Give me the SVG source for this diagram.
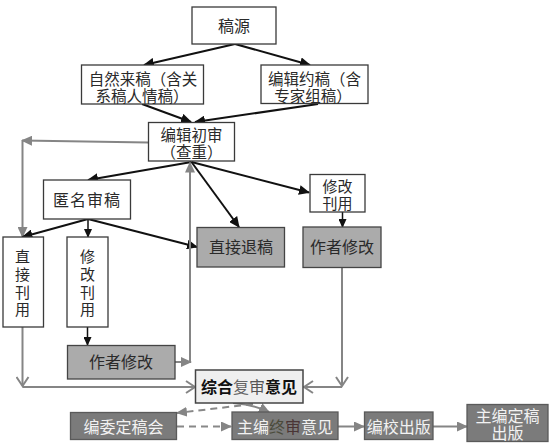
<svg xmlns="http://www.w3.org/2000/svg" width="551" height="446" viewBox="0 0 551 446">
<defs>
<style>
text{font-family:"Noto Sans CJK SC","Noto Sans",sans-serif;font-size:16px;fill:#2a2a2a;text-anchor:middle}
.v{font-size:15px}
.t2{font-size:15.5px}
.box{fill:#fff;stroke:#3a3a3a;stroke-width:1.3}
.mid{fill:#ababab;stroke:#444;stroke-width:1.3}
.dark{fill:#7b7b7b;stroke:#5a5a5a;stroke-width:1.3}
.light{fill:#efefef;stroke:#444;stroke-width:1.5}
.wt{fill:#f2f2f2}
.blk{stroke:#111;stroke-width:2;fill:none;marker-end:url(#ab)}
.thin{stroke:#111;stroke-width:1.5;fill:none;marker-end:url(#abs)}
.gry{stroke:#858585;stroke-width:2;fill:none;marker-end:url(#ag)}
.chv{stroke:#858585;stroke-width:2;fill:none;marker-end:url(#ac)}
.dsh{stroke:#888;stroke-width:2;fill:none;stroke-dasharray:7 5;marker-end:url(#ag)}
</style>
<marker id="ab" markerUnits="userSpaceOnUse" markerWidth="12" markerHeight="10" refX="10" refY="5" orient="auto"><path d="M0,0 L11,5 L0,10 z" fill="#111"/></marker>
<marker id="abs" markerUnits="userSpaceOnUse" markerWidth="10" markerHeight="8" refX="8" refY="4" orient="auto"><path d="M0,0 L9,4 L0,8 z" fill="#111"/></marker>
<marker id="ag" markerUnits="userSpaceOnUse" markerWidth="12" markerHeight="10" refX="10" refY="5" orient="auto"><path d="M0,0 L11,5 L0,10 z" fill="#858585"/></marker>
<marker id="ac" markerUnits="userSpaceOnUse" markerWidth="12" markerHeight="14" refX="10" refY="7" orient="auto"><path d="M1,1 L10,7 L1,13" fill="none" stroke="#858585" stroke-width="2"/></marker>
</defs>

<g id="connectors">
<line class="blk" x1="235" y1="44" x2="144" y2="65"/>
<line class="blk" x1="235" y1="44" x2="310" y2="65"/>
<line class="blk" x1="142" y1="104" x2="191" y2="122"/>
<line class="blk" x1="318" y1="104" x2="195" y2="122"/>
<line class="gry" x1="148" y1="142.5" x2="22" y2="140.5"/>
<line class="gry" x1="22.5" y1="140.5" x2="22.5" y2="237"/>
<line class="blk" x1="191.5" y1="162" x2="88" y2="180"/>
<line class="blk" x1="191.5" y1="162" x2="239" y2="227"/>
<line class="blk" x1="191.5" y1="162" x2="309" y2="192.5"/>
<line class="thin" x1="342.5" y1="212" x2="342.5" y2="227"/>
<line class="blk" x1="88" y1="219" x2="22.5" y2="237"/>
<line class="thin" x1="88" y1="219" x2="88" y2="237"/>
<line class="blk" x1="88" y1="219" x2="197" y2="247"/>
<line class="thin" x1="87.5" y1="327" x2="87.5" y2="345"/>
<line class="gry" x1="190" y1="361" x2="190" y2="162.5"/>
<line class="gry" x1="175" y1="362" x2="191" y2="362"/>
<line class="chv" x1="22.5" y1="327" x2="22.5" y2="386"/>
<line class="chv" x1="22.5" y1="387" x2="195" y2="387"/>
<line class="chv" x1="342" y1="268" x2="342" y2="386"/>
<line class="chv" x1="342" y1="387" x2="304" y2="387"/>
<line class="dsh" x1="253" y1="404" x2="177" y2="413"/>
<path class="gry" d="M233,403 Q255,405 269,412"/>
<line class="dsh" x1="177" y1="426.5" x2="231" y2="426.5"/>
<line class="gry" x1="338" y1="426.5" x2="364" y2="426.5"/>
<line class="gry" x1="433" y1="426.5" x2="467" y2="426.5"/>
</g>

<g id="n-gaoyuan"><rect class="box" x="192" y="7" width="84" height="37"/><text x="234" y="31.5">稿源</text></g>
<g id="n-ziran"><rect class="box" x="81.5" y="65" width="122" height="39"/><text class="t2" y="84.5"><tspan x="143">自然来稿（含关</tspan><tspan x="142" dy="17">系稿人情稿）</tspan></text></g>
<g id="n-yuegao"><rect class="box" x="261" y="65" width="107" height="38.5"/><text class="t2" y="84.5"><tspan x="314.5">编辑约稿（含</tspan><tspan x="313" dy="17">专家组稿）</tspan></text></g>
<g id="n-chushen"><rect class="box" x="148.5" y="122.5" width="86" height="38.5"/><text class="t2" y="140.5"><tspan x="191.5">编辑初审</tspan><tspan x="191.5" dy="17">（查重）</tspan></text></g>
<g id="n-niming"><rect class="box" x="43.5" y="180" width="87" height="39"/><text x="87" y="205.5" letter-spacing="1">匿名审稿</text></g>
<g id="n-xiugai-r"><rect class="box" x="310" y="174.5" width="55" height="37.5"/><text class="v" y="192"><tspan x="337.5">修改</tspan><tspan x="337.5" dy="16.5">刊用</tspan></text></g>
<g id="n-tuigao"><rect class="mid" x="197" y="227.5" width="87.5" height="39.5"/><text x="241" y="253">直接退稿</text></g>
<g id="n-zuozhe-r"><rect class="mid" x="303" y="227" width="78" height="40.5"/><text x="342" y="253">作者修改</text></g>
<g id="n-zhijie"><rect class="box" x="3" y="237" width="40.5" height="90"/><text class="v" y="261.5"><tspan x="22.5">直</tspan><tspan x="22.5" dy="18">接</tspan><tspan x="22.5" dy="18">刊</tspan><tspan x="22.5" dy="17">用</tspan></text></g>
<g id="n-xiugai-l"><rect class="box" x="67" y="237" width="41" height="90"/><text class="v" y="261.5"><tspan x="87.5">修</tspan><tspan x="87.5" dy="18">改</tspan><tspan x="87.5" dy="18">刊</tspan><tspan x="87.5" dy="17">用</tspan></text></g>
<g id="n-zuozhe-l"><rect class="mid" x="67.5" y="345.5" width="107.5" height="33.5"/><text x="121" y="368">作者修改</text></g>
<g id="n-fushen"><rect class="light" x="195.5" y="370" width="107.5" height="33"/><text x="249" y="393" font-weight="bold" font-size="16.5"><tspan fill="#111">综合</tspan><tspan fill="#666" font-weight="normal">复</tspan><tspan fill="#555" font-weight="normal">审</tspan><tspan fill="#111">意见</tspan></text></g>
<g id="n-bianwei"><rect class="dark" x="70.5" y="412.5" width="106" height="27"/><text class="wt" x="123.5" y="432.5">编委定稿会</text></g>
<g id="n-zhongshen"><rect class="dark" x="232" y="412" width="106" height="27.5"/><text x="285" y="432.5"><tspan fill="#f2f2f2">主编</tspan><tspan fill="#4a4a3a">终</tspan><tspan fill="#4a3535">审</tspan><tspan fill="#f2f2f2">意见</tspan></text></g>
<g id="n-bianjiao"><rect class="dark" x="364.5" y="412" width="68.5" height="27.5"/><text class="wt" x="398.7" y="432.5">编校出版</text></g>
<g id="n-dinggao"><rect class="dark" x="467" y="404.5" width="81" height="37"/><text class="wt" y="421.5"><tspan x="507.5">主编定稿</tspan><tspan x="507.5" dy="17">出版</tspan></text></g>
</svg>
